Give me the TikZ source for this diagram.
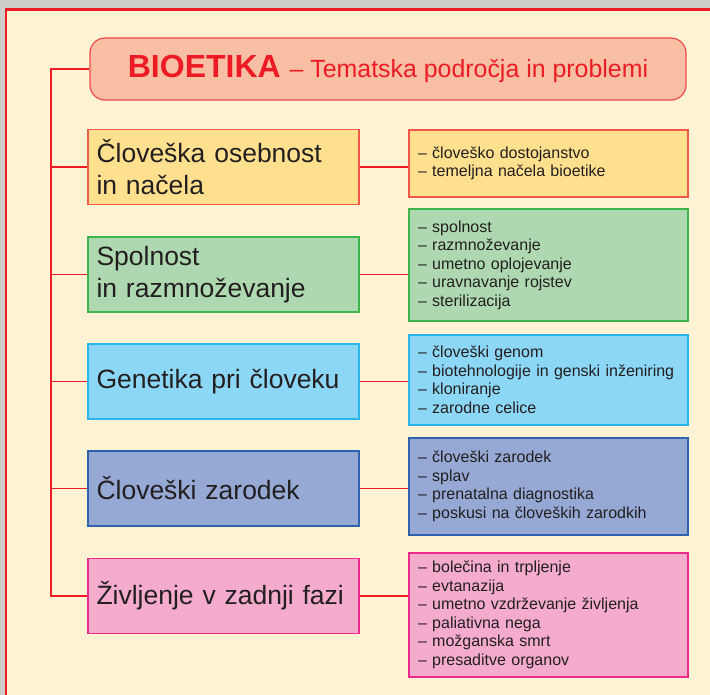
\documentclass[tikz,border=0pt]{standalone}
\usepackage{fontspec}
\setmainfont{Liberation Sans}
\usepackage{xcolor}
\usepackage{tikz}

\definecolor{pagegray}{HTML}{CDCDC9}
\definecolor{cream}{HTML}{FEF2D4}
\definecolor{framered}{HTML}{ED1C24}
\definecolor{titlefill}{HTML}{F9BFA5}
\definecolor{titleline}{HTML}{EF4A4A}
\definecolor{textdark}{HTML}{231F20}
\definecolor{orangefill}{HTML}{FFE08E}
\definecolor{orangeline}{HTML}{F15A4A}
\definecolor{greenfill}{HTML}{ADD8B0}
\definecolor{greenline}{HTML}{3DB54A}
\definecolor{bluefill}{HTML}{8CD7F5}
\definecolor{blueline}{HTML}{2BB5E8}
\definecolor{violetfill}{HTML}{96A8D4}
\definecolor{violetline}{HTML}{2F62AD}
\definecolor{pinkfill}{HTML}{F4ABCC}
\definecolor{pinkline}{HTML}{EC2A8C}

\tikzset{
    topic/.style={draw, line width=1.2pt, minimum width=271pt, minimum height=75pt,
        inner xsep=8.5pt, text width=254pt, align=left, text=textdark,
        font=\fontsize{26.5}{32}\selectfont},
    items/.style={draw, line width=1.2pt, minimum width=279pt, inner xsep=9pt,
        text width=261pt, align=left, text=textdark,
        font=\fontsize{16}{18.5}\selectfont},
    branch/.style={draw=framered, line width=1.3pt},
}

\begin{document}
\begin{tikzpicture}[x=1pt, y=-1pt]
        \useasboundingbox (0, 0) rectangle (710, 695);
        \clip (0, 0) rectangle (710, 695);
        \fill [pagegray] (0, 0) rectangle (710, 695);
        \draw [framered, fill=cream, line width=2.5pt] (6.2, 9.6) rectangle (760, 760); % frame

        \node [draw=titleline, fill=titlefill, rounded corners=15pt, line width=1.2pt,
            minimum width=596pt, minimum height=62pt, text=framered] (title) at (388, 69)
            {\fontsize{32}{36}\selectfont\bfseries BIOETIKA \fontsize{24.9}{30}\selectfont\mdseries – Tematska področja in problemi};

        \node [topic, draw=orangeline, fill=orangefill] (oseba) at (223.5, 167) {Človeška osebnost\\in načela};
        \node [topic, draw=greenline, fill=greenfill] (spol) at (223.5, 274.5) {Spolnost\\in razmnoževanje};
        \node [topic, draw=blueline, fill=bluefill] (genet) at (223.5, 381.5) {Genetika pri človeku};
        \node [topic, draw=violetline, fill=violetfill] (zarod) at (223.5, 488.5) {Človeški zarodek};
        \node [topic, draw=pinkline, fill=pinkfill] (konec) at (223.5, 596) {Življenje v zadnji fazi};

        \node [items, draw=orangeline, fill=orangefill, minimum height=67pt] (osebaT) at (548.5, 163.5)
            {– človeško dostojanstvo\\– temeljna načela bioetike};
        \node [items, draw=greenline, fill=greenfill, minimum height=112pt] (spolT) at (548.5, 265)
            {– spolnost\\– razmnoževanje\\– umetno oplojevanje\\– uravnavanje rojstev\\– sterilizacija};
        \node [items, draw=blueline, fill=bluefill, minimum height=90pt] (genetT) at (548.5, 380)
            {– človeški genom\\– biotehnologije in genski inženiring\\– kloniranje\\– zarodne celice};
        \node [items, draw=violetline, fill=violetfill, minimum height=97pt] (zarodT) at (548.5, 486.5)
            {– človeški zarodek\\– splav\\– prenatalna diagnostika\\– poskusi na človeških zarodkih};
        \node [items, draw=pinkline, fill=pinkfill, minimum height=124pt] (konecT) at (548.5, 615)
            {– bolečina in trpljenje\\– evtanazija\\– umetno vzdrževanje življenja\\– paliativna nega\\– možganska smrt\\– presaditve organov};

        \coordinate (trunk) at (51, 70);
        \draw [branch] (title.west) -- (title.west -| trunk) |- (konec.west); % trunk
        \draw [branch] (trunk |- oseba.west) -- (oseba.west);
        \draw [branch] (trunk |- spol.west) -- (spol.west);
        \draw [branch] (trunk |- genet.west) -- (genet.west);
        \draw [branch] (trunk |- zarod.west) -- (zarod.west);

        \draw [branch] (oseba.east) -- (oseba.east -| osebaT.west);
        \draw [branch] (spol.east) -- (spol.east -| spolT.west);
        \draw [branch] (genet.east) -- (genet.east -| genetT.west);
        \draw [branch] (zarod.east) -- (zarod.east -| zarodT.west);
        \draw [branch] (konec.east) -- (konec.east -| konecT.west);
\end{tikzpicture}
\end{document}
